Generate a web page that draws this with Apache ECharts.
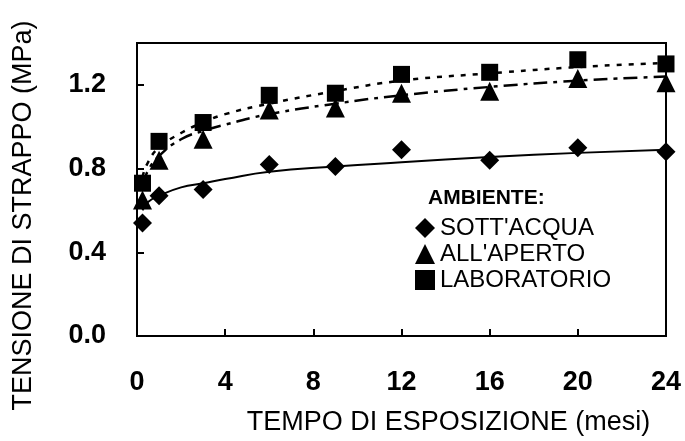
<!DOCTYPE html>
<html><head><meta charset="utf-8">
<script src="https://cdn.jsdelivr.net/npm/echarts@6/dist/echarts.min.js"></script>
<style>html,body{margin:0;padding:0;background:#fff}#c{width:685px;height:441px}</style>
</head><body><div id="c"></div>
<script>
const months = [0.25, 1, 3, 6, 9, 12, 16, 20, 24];
const sottAcqua = [0.54, 0.67, 0.70, 0.82, 0.81, 0.89, 0.84, 0.90, 0.88];
const allAperto = [0.65, 0.84, 0.94, 1.08, 1.09, 1.16, 1.17, 1.23, 1.21];
const laboratorio = [0.73, 0.93, 1.02, 1.15, 1.16, 1.25, 1.26, 1.32, 1.30];
const fitX = [0.25, 0.5, 1, 2, 3, 4, 6, 9, 12, 16, 20, 24];
const fitSott = [0.60, 0.64, 0.67, 0.71, 0.73, 0.75, 0.785, 0.81, 0.83, 0.855, 0.875, 0.89];
const fitAperto = [0.72, 0.79, 0.86, 0.94, 0.98, 1.01, 1.06, 1.11, 1.15, 1.19, 1.22, 1.24];
const fitLab = [0.76, 0.83, 0.90, 0.97, 1.02, 1.06, 1.11, 1.17, 1.22, 1.255, 1.285, 1.305];
const xTicks = [0, 4, 8, 12, 16, 20, 24];
const yTicks = [0.0, 0.4, 0.8, 1.2];
const names = ["SOTT'ACQUA", "ALL'APERTO", "LABORATORIO"];

const pair = (xs, ys) => xs.map((x, i) => [x, ys[i]]);
const font = 'Liberation Sans, Arial, sans-serif';
const mark = { color: '#000', opacity: 1 };
const chart = echarts.init(document.getElementById('c'));
chart.setOption({
  animation: false,
  backgroundColor: '#fff',
  title: {
    text: 'AMBIENTE:', left: 423, top: 183,
    textStyle: { fontFamily: font, fontSize: 21, fontWeight: 'bold', color: '#000' }
  },
  legend: {
    data: names, orient: 'vertical', left: 410, top: 211, itemGap: 2,
    itemWidth: 20, itemHeight: 20,
    itemStyle: { opacity: 1 },
    textStyle: { fontFamily: font, fontSize: 24, color: '#000' }
  },
  grid: { left: 137, right: 19, top: 43, bottom: 104, show: true, borderColor: '#000', borderWidth: 2 },
  xAxis: {
    type: 'value', min: 0, max: 24, interval: 4,
    name: 'TEMPO DI ESPOSIZIONE (mesi)', nameLocation: 'middle', nameGap: 73,
    nameTextStyle: { fontFamily: font, fontSize: 27, color: '#000', padding: [0, 0, 0, 94] },
    axisLine: { lineStyle: { color: '#000', width: 2 } },
    axisTick: { inside: true, length: 7, lineStyle: { color: '#000', width: 2 } },
    axisLabel: { margin: 33, fontFamily: font, fontSize: 27, fontWeight: 'bold', color: '#000',
      formatter: v => xTicks.includes(v) ? String(v) : '' },
    splitLine: { show: false }
  },
  yAxis: {
    type: 'value', min: 0, max: 1.4, interval: 0.4,
    name: 'TENSIONE DI STRAPPO (MPa)', nameLocation: 'middle', nameGap: 100,
    nameTextStyle: { fontFamily: font, fontSize: 27, color: '#000', padding: [0, 52, 0, 0] },
    axisLine: { lineStyle: { color: '#000', width: 2 } },
    axisTick: { inside: true, length: 7, lineStyle: { color: '#000', width: 2 } },
    axisLabel: { margin: 31, fontFamily: font, fontSize: 27, fontWeight: 'bold', color: '#000', showMaxLabel: false,
      formatter: v => { const t = yTicks.find(y => Math.abs(y - v) < 1e-6); return t === undefined ? '' : t.toFixed(1); } },
    splitLine: { show: false }
  },
  series: [
    { type: 'line', data: pair(fitX, fitSott), smooth: true, showSymbol: false, silent: true,
      lineStyle: { color: '#000', width: 2, type: 'solid' } },
    { type: 'line', data: pair(fitX, fitAperto), smooth: true, showSymbol: false, silent: true,
      lineStyle: { color: '#000', width: 2.5, type: [14, 6, 4, 6] } },
    { type: 'line', data: pair(fitX, fitLab), smooth: true, showSymbol: false, silent: true,
      lineStyle: { color: '#000', width: 2.5, type: [5, 7] } },
    { name: names[0], type: 'scatter', data: pair(months, sottAcqua), symbol: 'diamond', symbolSize: 19,
      itemStyle: mark },
    { name: names[1], type: 'scatter', data: pair(months, allAperto), symbol: 'triangle', symbolSize: 19,
      itemStyle: mark },
    { name: names[2], type: 'scatter', data: pair(months, laboratorio), symbol: 'rect', symbolSize: 17,
      itemStyle: mark }
  ]
});
</script></body></html>
